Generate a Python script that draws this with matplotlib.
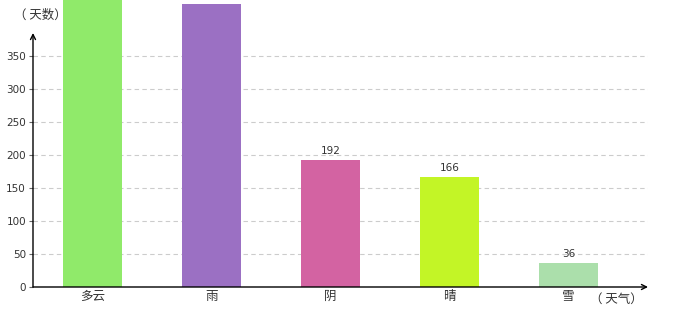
import matplotlib
matplotlib.use("Agg")
import matplotlib.pyplot as plt

plt.rcParams['font.family'] = ['Noto Sans CJK SC', 'DejaVu Sans']

categories = ["多云", "雨", "阴", "晴", "雪"]
values = [460, 429, 192, 166, 36]
colors = ["#90EA6A", "#9B70C3", "#D363A2", "#C3F526", "#ABDFAB"]
yticks = [0, 50, 100, 150, 200, 250, 300, 350]

W, H = 680, 320
fig = plt.figure(figsize=(W / 100, H / 100), dpi=100)
x0, x1 = 33, 648
yb = 287
ax = fig.add_axes([x0 / W, (H - yb) / H, (x1 - x0) / W, yb / H])

ppu = 33 / 50.0  # pixels per unit
ymax = yb / ppu
ax.set_ylim(0, ymax)
ax.set_xlim(-0.5, -0.5 + (x1 - x0) / 119.0)

xs = list(range(len(categories)))
bars = ax.bar(xs, values, width=0.496, color=colors, zorder=3)
for xi, v in zip(xs, values):
    # labels of bars running past the top fall outside the picture, as in the reference
    if v + 20 > ymax:
        continue
    ax.annotate(str(v), (xi, v), xytext=(0, 3), textcoords="offset points",
                ha="center", va="bottom", fontsize=7.5, color="#333333",
                family=['DejaVu Sans'], zorder=4)

ax.set_yticks(yticks)
ax.set_yticklabels([str(t) for t in yticks], fontsize=7.5, color="#333333",
                   family=['DejaVu Sans'])
ax.set_xticks(xs)
ax.set_xticklabels(categories, fontsize=9, color="#333333")
ax.tick_params(axis="y", length=3, width=0.8, color="#666666", pad=2)
ax.tick_params(axis="x", length=0, pad=2)
ax.yaxis.grid(True, linestyle=(0, (4, 3)), color="#CCCCCC", linewidth=0.8, zorder=0)
for s in ["top", "right", "left", "bottom"]:
    ax.spines[s].set_visible(False)

# axes lines with arrows
ytop = (yb - 33) / ppu
ax.annotate("", xy=(-0.5, ytop), xytext=(-0.5, 0),
            xycoords="data", textcoords="data",
            arrowprops=dict(arrowstyle="->", color="black", lw=1.0,
                            shrinkA=0, shrinkB=0, mutation_scale=9),
            annotation_clip=False, zorder=5)
xr = ax.get_xlim()[1]
ax.annotate("", xy=(xr, 0), xytext=(-0.5, 0),
            xycoords="data", textcoords="data",
            arrowprops=dict(arrowstyle="->", color="black", lw=1.0,
                            shrinkA=0, shrinkB=0, mutation_scale=9),
            annotation_clip=False, zorder=5)

fig.text(14 / W, 1 - 15 / H, "（ 天数）", fontsize=9, color="#333333",
         ha="left", va="center")
fig.text(590 / W, 1 - 299 / H, "（ 天气）", fontsize=9, color="#333333",
         ha="left", va="center")

fig.savefig("out.png", dpi=100)
